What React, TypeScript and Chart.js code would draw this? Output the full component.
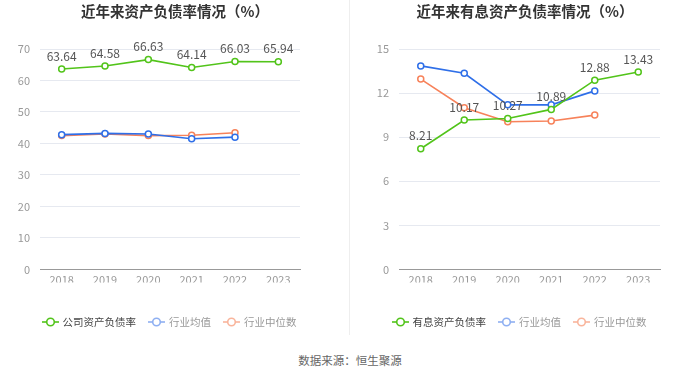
import React, { useEffect, useRef } from "react";
import { Chart, registerables } from "chart.js";
Chart.register(...registerables);

const years = ["2018", "2019", "2020", "2021", "2022", "2023"];

const leftCompany = [63.64, 64.58, 66.63, 64.14, 66.03, 65.94];
const leftAvg = [42.8, 43.2, 43.0, 41.5, 42.0, null];
const leftMedian = [42.5, 43.0, 42.5, 42.6, 43.4, null];

const rightCompany = [8.21, 10.17, 10.27, 10.89, 12.88, 13.43];
const rightAvg = [13.85, 13.35, 11.2, 11.2, 12.15, null];
const rightMedian = [12.95, 11.0, 10.05, 10.1, 10.5, null];

const GREEN = "#52c41a";
const BLUE = "#2f6fe8";
const ORANGE = "#f7825a";
const FONT = "'Noto Sans CJK SC', 'Noto Sans', sans-serif";

const labelPlugin = {
  id: "valueLabels",
  afterDatasetsDraw(chart: any) {
    const ctx = chart.ctx;
    const meta = chart.getDatasetMeta(0);
    const data = chart.data.datasets[0].data;
    ctx.save();
    ctx.font = `12px ${FONT}`;
    ctx.fillStyle = "#555";
    ctx.textAlign = "center";
    ctx.textBaseline = "middle";
    meta.data.forEach((pt: any, i: number) => {
      if (data[i] == null) return;
      ctx.fillText(data[i].toFixed(2), pt.x, pt.y - 13);
    });
    ctx.restore();
  },
};

function ds(label: string, data: any[], color: string) {
  return {
    label,
    data,
    borderColor: color,
    backgroundColor: "#fff",
    pointBackgroundColor: "#fff",
    pointBorderColor: color,
    pointBorderWidth: 1.5,
    pointRadius: 3,
    borderWidth: 1.6,
    tension: 0,
    spanGaps: false,
  };
}

function LineChart(props: {
  company: number[];
  avg: any[];
  median: any[];
  max: number;
  step: number;
  yWidth: number;
  padRight: number;
  label: string;
}) {
  const ref = useRef<HTMLCanvasElement>(null);
  useEffect(() => {
    const chart = new Chart(ref.current!, {
      type: "line",
      data: {
        labels: years,
        datasets: [
          ds(props.label, props.company, GREEN),
          ds("行业均值", props.avg, BLUE),
          ds("行业中位数", props.median, ORANGE),
        ],
      },
      options: {
        animation: false,
        responsive: false,
        layout: { padding: { top: 49, right: props.padRight, left: 0, bottom: 0 } },
        plugins: { legend: { display: false }, tooltip: { enabled: false } },
        scales: {
          x: {
            offset: true,
            grid: { display: false, drawTicks: true },
            border: { color: "#999" },
            ticks: { color: "#999", font: { size: 11, family: FONT }, padding: -4 },
          },
          y: {
            min: 0,
            max: props.max,
            afterFit: (s: any) => {
              s.width = props.yWidth;
            },
            ticks: {
              stepSize: props.step,
              color: "#999",
              font: { size: 11, family: FONT },
              padding: 10,
            },
            grid: { color: "#e6e9f0", drawTicks: false },
            border: { display: false },
          },
        },
      },
      plugins: [labelPlugin],
    });
    return () => chart.destroy();
  }, []);
  return <canvas ref={ref} width={350} height={286} style={{ display: "block" }} />;
}

function Sym(props: { color: string }) {
  return (
    <svg width="17" height="12" style={{ marginRight: 4 }}>
      <line x1="0" y1="6" x2="17" y2="6" stroke={props.color} strokeWidth="1.6" />
      <circle cx="8.5" cy="6" r="3.8" fill="#fff" stroke={props.color} strokeWidth="1.6" />
    </svg>
  );
}

function Legend(props: { first: string }) {
  const item = (c: string, t: string, tc: string) => (
    <span style={{ display: "flex", alignItems: "center", marginRight: 12 }}>
      <Sym color={c} />
      <span style={{ color: tc }}>{t}</span>
    </span>
  );
  return (
    <div
      style={{
        display: "flex",
        justifyContent: "center",
        alignItems: "center",
        fontSize: 10.5,
        fontFamily: FONT,
        width: 350,
      }}
    >
      {item(GREEN, props.first, "#444")}
      {item("#8fb0f2", "行业均值", "#999")}
      {item("#f9b59c", "行业中位数", "#999")}
    </div>
  );
}

export default function App() {
  const titleStyle: any = {
    position: "absolute",
    top: 0,
    width: 350,
    textAlign: "center",
    fontFamily: FONT,
    fontWeight: "bold",
    fontSize: 14.5,
    color: "#333",
  };
  return (
    <div
      style={{
        position: "fixed",
        left: 0,
        top: 0,
        width: 700,
        height: 378,
        background: "#fff",
        overflow: "hidden",
      }}
    >
      <div style={{ position: "absolute", left: 0, top: 0 }}>
        <LineChart
          company={leftCompany}
          avg={leftAvg}
          median={leftMedian}
          max={70}
          step={10}
          yWidth={40}
          padRight={50}
          label="公司资产负债率"
        />
      </div>
      <div style={{ position: "absolute", left: 350, top: 0 }}>
        <LineChart
          company={rightCompany}
          avg={rightAvg}
          median={rightMedian}
          max={15}
          step={3}
          yWidth={49}
          padRight={40}
          label="有息资产负债率"
        />
      </div>
      <div style={{ ...titleStyle, left: 0 }}>近年来资产负债率情况（%）</div>
      <div style={{ ...titleStyle, left: 350 }}>近年来有息资产负债率情况（%）</div>
      <div style={{ position: "absolute", left: 349, top: 0, width: 1, height: 335, background: "#eee" }} />
      <div style={{ position: "absolute", left: 0, top: 314 }}>
        <Legend first="公司资产负债率" />
      </div>
      <div style={{ position: "absolute", left: 350, top: 314 }}>
        <Legend first="有息资产负债率" />
      </div>
      <div
        style={{
          position: "absolute",
          top: 352,
          width: 700,
          textAlign: "center",
          fontFamily: FONT,
          fontSize: 11.5,
          color: "#666",
        }}
      >
        数据来源：恒生聚源
      </div>
    </div>
  );
}
